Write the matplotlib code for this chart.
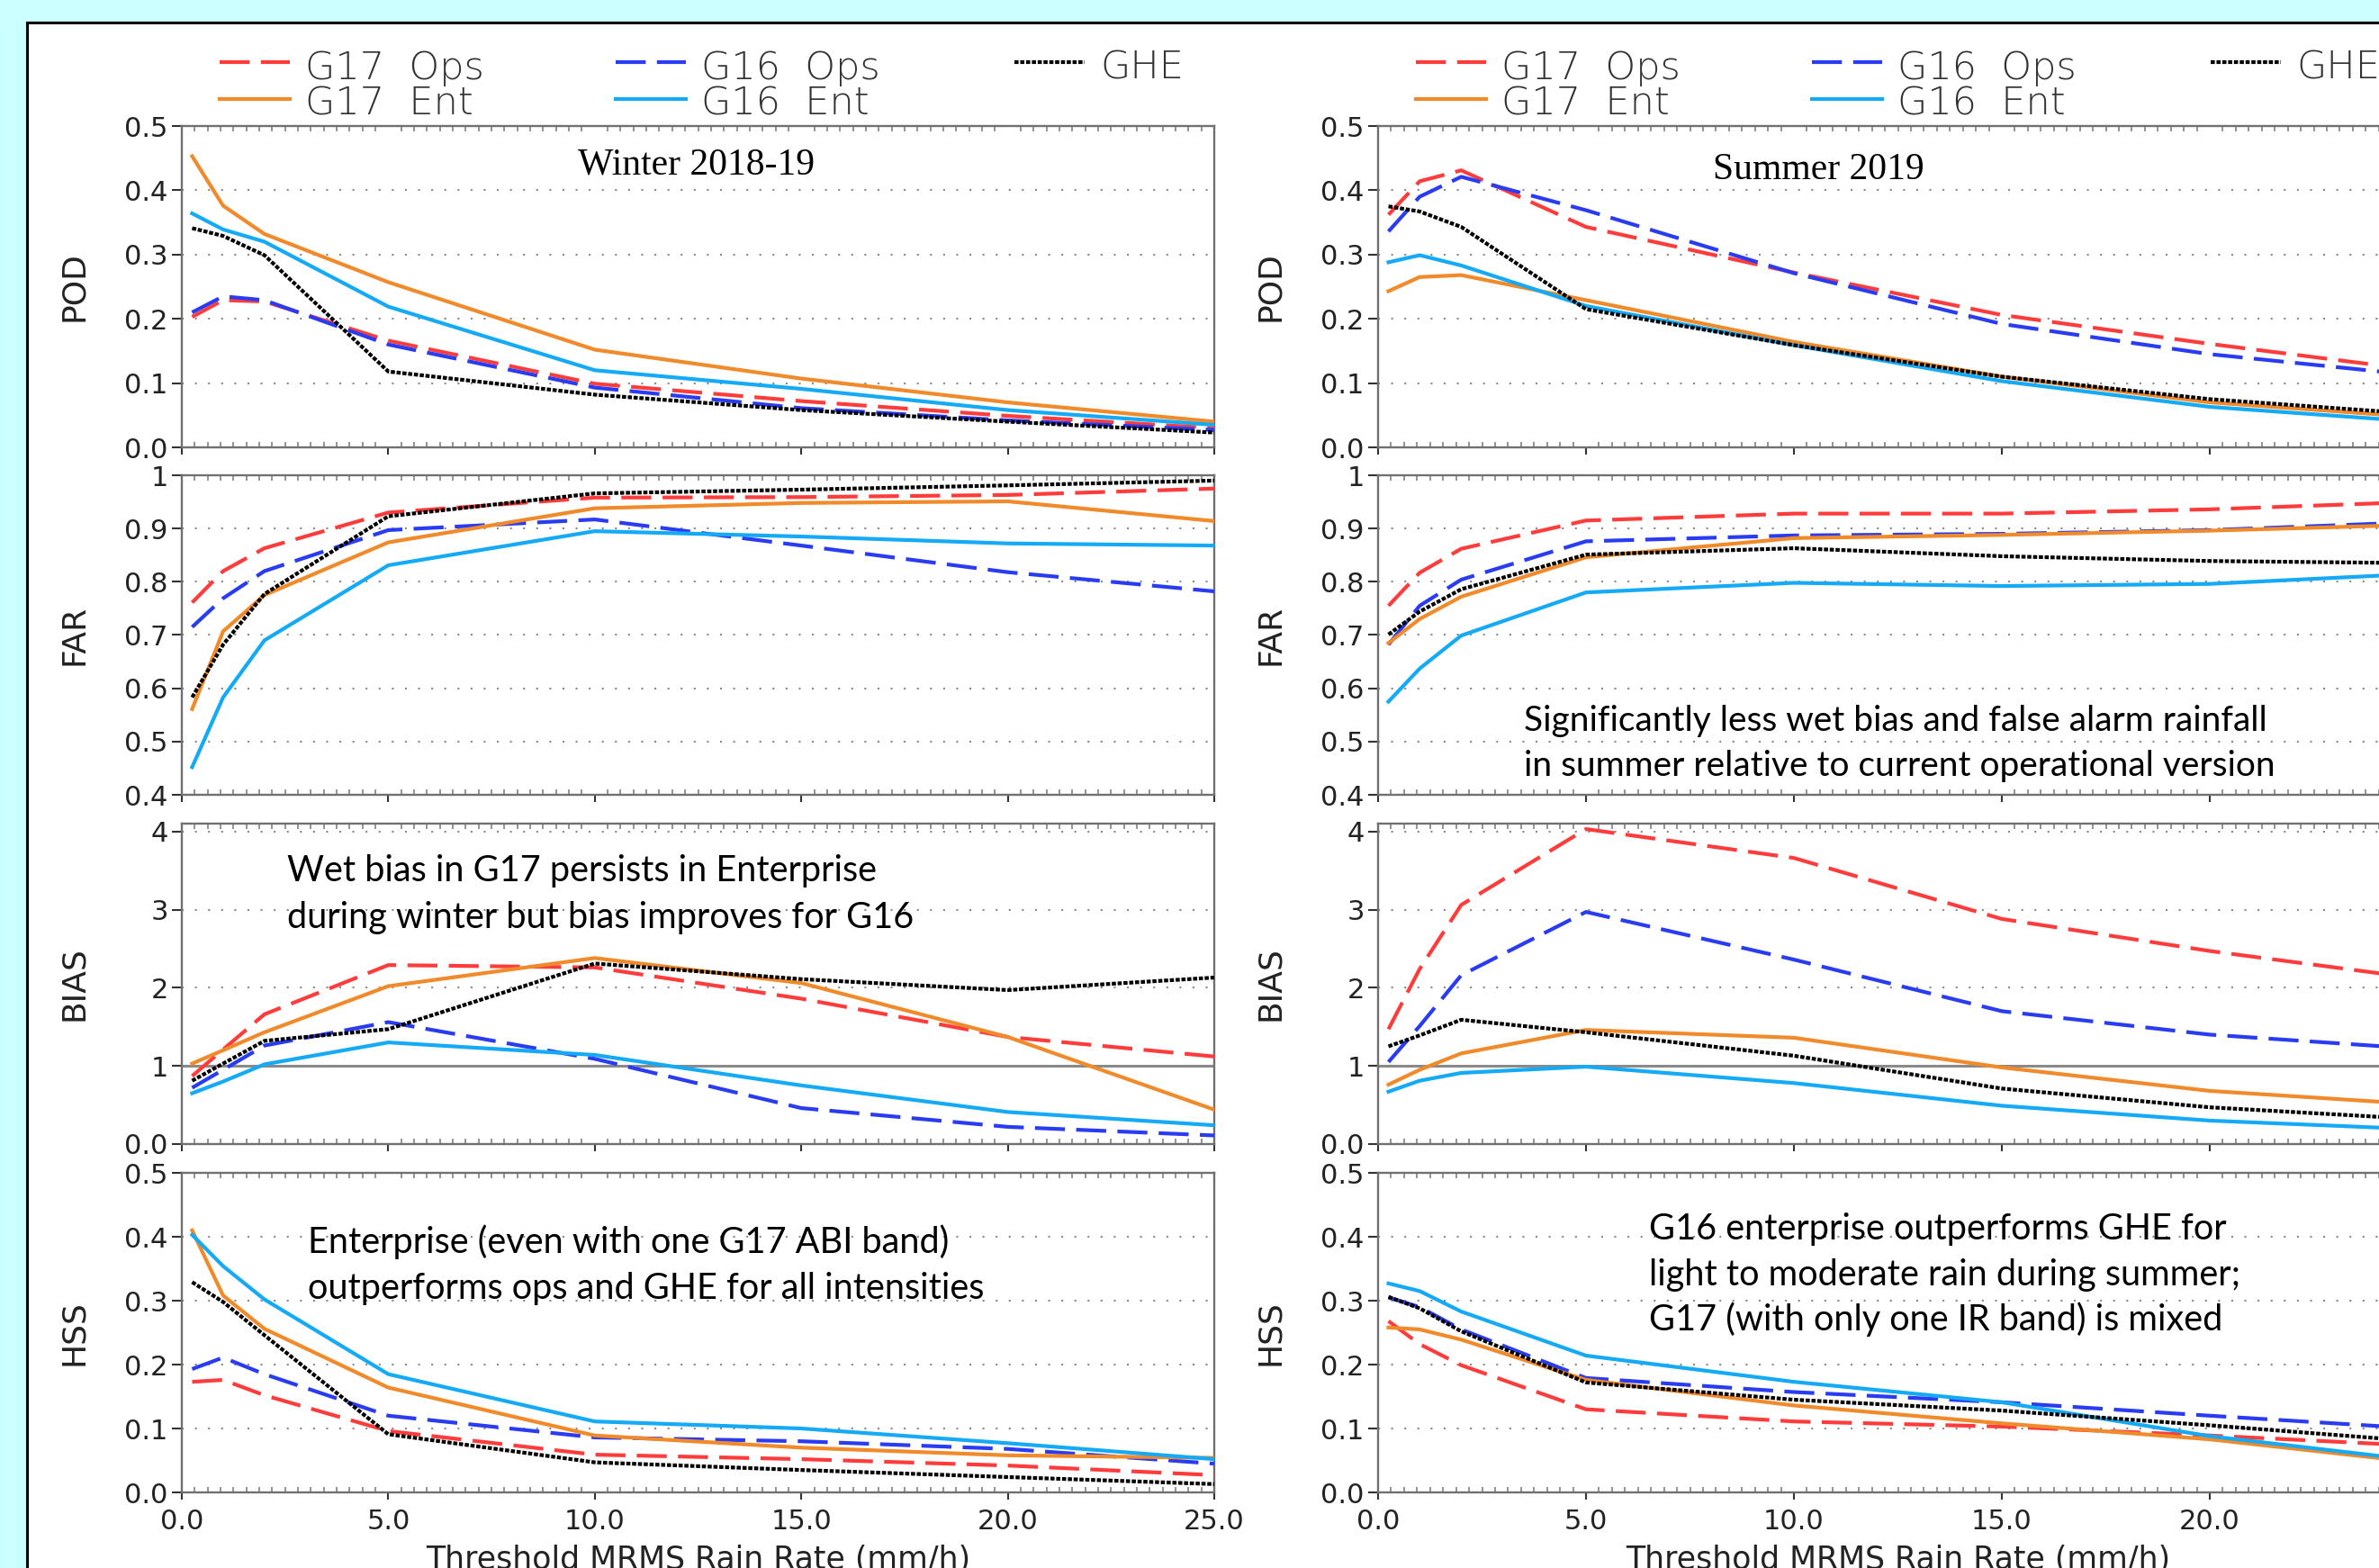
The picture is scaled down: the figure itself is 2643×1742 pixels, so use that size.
import matplotlib
matplotlib.use("Agg")
import matplotlib.pyplot as plt
from matplotlib import font_manager
from matplotlib.lines import Line2D
from matplotlib.patches import Rectangle
from matplotlib.ticker import MultipleLocator

# thresholds (mm/h)
thresholds = [0.25, 1, 2, 5, 10, 15, 20, 25]
series = ["G17 Ops", "G16 Ops", "GHE", "G17 Ent", "G16 Ent"]

# rows follow the order of `series`
pod_winter = [
    [0.203, 0.229, 0.227, 0.166, 0.099, 0.072, 0.049, 0.030],
    [0.210, 0.235, 0.229, 0.160, 0.093, 0.061, 0.042, 0.027],
    [0.341, 0.329, 0.299, 0.118, 0.082, 0.058, 0.040, 0.023],
    [0.453, 0.376, 0.332, 0.257, 0.152, 0.107, 0.070, 0.040],
    [0.364, 0.339, 0.320, 0.219, 0.120, 0.091, 0.058, 0.035],
]
far_winter = [
    [0.761, 0.820, 0.863, 0.930, 0.958, 0.959, 0.963, 0.975],
    [0.715, 0.769, 0.820, 0.897, 0.917, 0.868, 0.818, 0.782],
    [0.583, 0.682, 0.777, 0.923, 0.966, 0.973, 0.981, 0.990],
    [0.561, 0.707, 0.775, 0.874, 0.938, 0.948, 0.951, 0.914],
    [0.452, 0.583, 0.690, 0.831, 0.895, 0.885, 0.872, 0.868],
]
bias_winter = [
    [0.87, 1.21, 1.66, 2.29, 2.26, 1.86, 1.37, 1.12],
    [0.72, 0.95, 1.26, 1.56, 1.09, 0.46, 0.22, 0.11],
    [0.81, 1.03, 1.32, 1.47, 2.31, 2.11, 1.97, 2.13],
    [1.03, 1.20, 1.43, 2.02, 2.38, 2.06, 1.37, 0.44],
    [0.65, 0.80, 1.02, 1.30, 1.14, 0.75, 0.41, 0.24],
]
hss_winter = [
    [0.173, 0.176, 0.152, 0.096, 0.059, 0.052, 0.042, 0.027],
    [0.193, 0.211, 0.185, 0.120, 0.086, 0.080, 0.068, 0.045],
    [0.329, 0.298, 0.246, 0.091, 0.047, 0.035, 0.024, 0.013],
    [0.410, 0.308, 0.256, 0.164, 0.089, 0.070, 0.058, 0.054],
    [0.403, 0.354, 0.302, 0.185, 0.111, 0.100, 0.077, 0.052],
]
pod_summer = [
    [0.362, 0.414, 0.431, 0.343, 0.272, 0.206, 0.161, 0.120],
    [0.336, 0.390, 0.421, 0.369, 0.271, 0.192, 0.145, 0.112],
    [0.375, 0.367, 0.343, 0.215, 0.159, 0.110, 0.075, 0.052],
    [0.243, 0.265, 0.268, 0.229, 0.164, 0.110, 0.070, 0.047],
    [0.288, 0.299, 0.283, 0.220, 0.159, 0.103, 0.063, 0.040],
]
far_summer = [
    [0.755, 0.817, 0.862, 0.915, 0.928, 0.928, 0.936, 0.950],
    [0.682, 0.755, 0.804, 0.876, 0.887, 0.890, 0.897, 0.912],
    [0.701, 0.744, 0.786, 0.851, 0.863, 0.848, 0.839, 0.835],
    [0.685, 0.730, 0.772, 0.846, 0.882, 0.888, 0.896, 0.907],
    [0.575, 0.637, 0.699, 0.780, 0.798, 0.792, 0.796, 0.815],
]
bias_summer = [
    [1.47, 2.24, 3.06, 4.03, 3.66, 2.88, 2.47, 2.12],
    [1.05, 1.51, 2.16, 2.97, 2.36, 1.70, 1.40, 1.22],
    [1.25, 1.39, 1.59, 1.43, 1.13, 0.71, 0.47, 0.32],
    [0.76, 0.95, 1.16, 1.46, 1.36, 0.98, 0.68, 0.51],
    [0.67, 0.81, 0.91, 0.99, 0.78, 0.49, 0.30, 0.19],
]
hss_summer = [
    [0.268, 0.232, 0.199, 0.130, 0.111, 0.103, 0.089, 0.073],
    [0.305, 0.290, 0.255, 0.179, 0.157, 0.141, 0.120, 0.100],
    [0.306, 0.288, 0.252, 0.172, 0.145, 0.128, 0.105, 0.080],
    [0.258, 0.255, 0.239, 0.176, 0.136, 0.108, 0.083, 0.047],
    [0.327, 0.315, 0.283, 0.214, 0.173, 0.141, 0.088, 0.050],
]

metrics = ["POD", "FAR", "BIAS", "HSS"]
yticks = {
    "POD": ([0, 0.1, 0.2, 0.3, 0.4, 0.5], ["0.0", "0.1", "0.2", "0.3", "0.4", "0.5"]),
    "FAR": ([0.4, 0.5, 0.6, 0.7, 0.8, 0.9, 1.0], ["0.4", "0.5", "0.6", "0.7", "0.8", "0.9", "1"]),
    "BIAS": ([0, 1, 2, 3, 4], ["0.0", "1", "2", "3", "4"]),
    "HSS": ([0, 0.1, 0.2, 0.3, 0.4, 0.5], ["0.0", "0.1", "0.2", "0.3", "0.4", "0.5"]),
}
ylims = {"POD": (0, 0.5), "FAR": (0.4, 1.0), "BIAS": (0, 4.1), "HSS": (0, 0.5)}
xticks = [0, 5, 10, 15, 20, 25]
xticklabels = ["0.0", "5.0", "10.0", "15.0", "20.0", "25.0"]

seasons = [
    {"POD": pod_winter, "FAR": far_winter, "BIAS": bias_winter, "HSS": hss_winter},
    {"POD": pod_summer, "FAR": far_summer, "BIAS": bias_summer, "HSS": hss_summer},
]
titles = ["Winter 2018-19", "Summer 2019"]

colors = ["#ff3c3c", "#2a3cf2", "black", "#f08a2a", "#14aaf5"]
styles = [(0, (8, 3)), (0, (8, 3)), (0, (1.1, 0.45)), "-", "-"]
draw_order = [0, 1, 3, 4, 2]

# ---- fonts
avail = {f.name for f in font_manager.fontManager.ttflist}
def pick(*names):
    for n in names:
        if n in avail:
            return n
    return "DejaVu Sans"
thin = "DejaVu Sans"
note = pick("Lato", "Open Sans", "Noto Sans")
serif = pick("Liberation Serif", "DejaVu Serif")

W, H = 2643, 1742
fig = plt.figure(figsize=(W / 100, H / 100), dpi=100, facecolor="#ccffff")

def fx(x):
    return x / W

def fy(y):
    return 1 - y / H

# white slide panel
fig.add_artist(Rectangle((fx(30), fy(H + 30)), (W + 30) / W, (H + 5) / H,
                         transform=fig.transFigure, facecolor="white",
                         edgecolor="black", lw=2.2, zorder=0))

cols = [(202, 1349), (1531, 2686)]
rows = [(140, 497), (528, 883), (915, 1271), (1303, 1658)]
spine_c = "#707070"

for c, (x0, x1) in enumerate(cols):
    data = seasons[c]
    for r, m in enumerate(metrics):
        y0, y1 = rows[r]
        ax = fig.add_axes([fx(x0), fy(y1), (x1 - x0) / W, (y1 - y0) / H])
        ax.set_facecolor("white")
        for s in ax.spines.values():
            s.set_color(spine_c)
            s.set_linewidth(1.7)
        ax.set_xlim(0, 25)
        ax.set_ylim(*ylims[m])
        ax.set_xticks(xticks)
        ax.xaxis.set_minor_locator(MultipleLocator(0.3125))
        tk, tl = yticks[m]
        ax.set_yticks(tk, tl)
        ax.tick_params(axis="y", which="major", direction="out", length=8, width=1.5,
                       color="#333333", pad=3, labelsize=22, labelcolor="#222222")
        ax.tick_params(axis="x", which="minor", direction="in", top=True, bottom=True,
                       length=4, width=1.1, color="#777777")
        ax.tick_params(axis="x", which="major", direction="out", length=6, width=1.5,
                       color="#333333", pad=7, labelsize=22, labelcolor="#222222",
                       labelbottom=(m == "HSS"))
        if m == "HSS":
            # the right column's last label falls outside the slide
            ax.set_xticklabels(xticklabels if c == 0 else xticklabels[:-1] + [""])
        for lab in ax.get_xticklabels() + ax.get_yticklabels():
            lab.set_fontfamily(thin)
        for t in tk[1:-1] if m != "BIAS" else tk[2:]:
            ax.axhline(t, color="#8a8a8a", lw=1.5, ls=(0, (1, 6)), zorder=1)
        if m == "BIAS":
            ax.axhline(1, color="#8a8a8a", lw=2.2, zorder=1)
        vals = data[m]
        for i in draw_order:
            ax.plot(thresholds, vals[i], color=colors[i], ls=styles[i], lw=3.0,
                    zorder=3, clip_on=True)
        yc = (y0 + y1) / 2
        fig.text(fx(x0 - 120), fy(yc), m, rotation=90, ha="center",
                 va="center", fontsize=26, family=thin, color="#222222")

    # legend above the column
    lx = [x0 + 42, x0 + 482, x0 + 925]
    entries = [(0, 0, 0), (3, 0, 1), (1, 1, 0), (4, 1, 1), (2, 2, 0)]
    for i, col, row in entries:
        ly = [69, 110][row]
        base = [88, 128][row]
        fig.add_artist(Line2D([fx(lx[col]), fx(lx[col] + 78)], [fy(ly), fy(ly)],
                              transform=fig.transFigure, color=colors[i],
                              ls=styles[i], lw=3.0))
        fig.text(fx(lx[col] + 95), fy(base), series[i].replace(" ", "  "),
                 ha="left", va="baseline", fontsize=31, family=thin,
                 fontweight="light", color="#333333")

    # x axis title
    fig.text(fx((x0 + x1) / 2), fy(1716), "Threshold MRMS Rain Rate (mm/h)",
             ha="center", va="top", fontsize=25, family=thin, color="#222222")

# season titles
fig.text(fx(774), fy(193), titles[0], ha="center", va="baseline", fontsize=30,
         family=serif, color="black")
fig.text(fx(2020), fy(199), titles[1], ha="center", va="baseline", fontsize=30,
         family=serif, color="black")

# annotations
notes = [
    (1693, [812, 862], 28, ["Significantly less wet bias and false alarm rainfall",
                            "in summer relative to current operational version"]),
    (319, [979, 1031], 28.5, ["Wet bias in G17 persists in Enterprise",
                              "during winter but bias improves for G16"]),
    (342, [1392, 1443], 28.5, ["Enterprise (even with one G17 ABI band)",
                               "outperforms ops and GHE for all intensities"]),
    (1832, [1377, 1428, 1478], 28.5, ["G16 enterprise outperforms GHE for",
                                      "light to moderate rain during summer;",
                                      "G17 (with only one IR band) is mixed"]),
]
for x, ys, size, lines in notes:
    for y, line in zip(ys, lines):
        fig.text(fx(x), fy(y), line, ha="left", va="baseline", fontsize=size,
                 family=note, color="black")

fig.savefig("out.png", dpi=100, facecolor=fig.get_facecolor())
